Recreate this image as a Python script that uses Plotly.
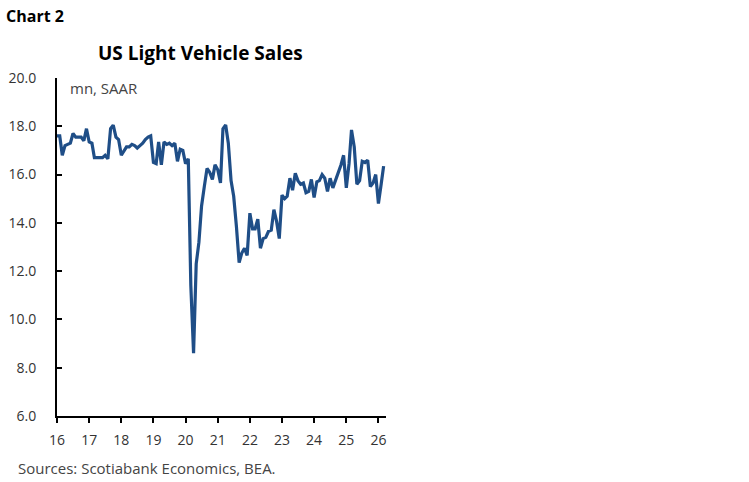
import plotly.graph_objects as go
import pandas as pd

# monthly US light vehicle sales, mn units SAAR, Jan 2016 - Mar 2026
sales_2016 = [17.6, 17.6, 16.8, 17.2, 17.25, 17.3, 17.7, 17.55, 17.55, 17.55, 17.4, 17.9]
sales_2017 = [17.35, 17.3, 16.7, 16.7, 16.7, 16.7, 16.8, 16.65, 17.9, 18.05, 17.55, 17.45]
sales_2018 = [16.8, 17.0, 17.15, 17.15, 17.25, 17.2, 17.1, 17.2, 17.3, 17.45, 17.55, 17.6]
sales_2019 = [16.5, 16.45, 17.35, 16.4, 17.35, 17.25, 17.3, 17.2, 17.3, 16.55, 17.05, 17.0]
sales_2020 = [16.45, 16.65, 11.4, 8.6, 12.3, 13.2, 14.7, 15.5, 16.25, 16.1, 15.8, 16.4]
sales_2021 = [16.2, 15.65, 17.9, 18.05, 17.3, 15.75, 15.1, 13.85, 12.35, 12.75, 12.95, 12.65]
sales_2022 = [14.4, 13.75, 13.75, 14.15, 12.95, 13.35, 13.4, 13.65, 13.7, 14.55, 14.05, 13.35]
sales_2023 = [15.15, 15.0, 15.1, 15.85, 15.35, 16.05, 15.75, 15.6, 15.65, 15.25, 15.3, 15.8]
sales_2024 = [15.05, 15.7, 15.75, 16.0, 15.85, 15.3, 15.85, 15.45, 15.75, 16.05, 16.4, 16.8]
sales_2025 = [15.45, 16.45, 17.85, 17.15, 15.6, 15.75, 16.55, 16.5, 16.6, 15.5, 15.65, 16.0]
sales_2026 = [14.8, 15.6, 16.35]

sales = (sales_2016 + sales_2017 + sales_2018 + sales_2019 + sales_2020 + sales_2021
         + sales_2022 + sales_2023 + sales_2024 + sales_2025 + sales_2026)
months = pd.date_range("2016-01-01", periods=len(sales), freq="MS")

year_ticks = pd.date_range("2016-01-01", "2026-01-01", freq="YS")
year_labels = ["16", "17", "18", "19", "20", "21", "22", "23", "24", "25", "26"]
y_ticks = [6, 8, 10, 12, 14, 16, 18, 20]

font = "Open Sans, Lato, sans-serif"

fig = go.Figure()
fig.add_trace(go.Scatter(x=months, y=sales, mode="lines",
                         line=dict(color="#1f4e87", width=3.2)))

fig.update_layout(
    width=749, height=482,
    margin=dict(l=57, r=363, t=78, b=66),
    plot_bgcolor="white", paper_bgcolor="white",
    showlegend=False,
    font=dict(family=font, size=13, color="#333333"),
    xaxis=dict(range=["2016-01-01", "2026-03-28"], showgrid=False, zeroline=False,
               showline=True, linecolor="black", linewidth=2, automargin=False,
               ticks="outside", ticklen=5, tickwidth=1.5, tickcolor="black",
               tickvals=year_ticks, ticktext=year_labels,
               tickfont=dict(size=14, color="#333333"), ticklabelstandoff=5),
    yaxis=dict(range=[6, 20], showgrid=False, zeroline=False,
               showline=True, linecolor="black", linewidth=2, automargin=False,
               ticks="inside", ticklen=5, tickwidth=1.5, tickcolor="black",
               tickvals=y_ticks, tickformat=".1f",
               tickfont=dict(size=14, color="#333333"), ticklabelstandoff=16),
)

fig.add_annotation(text="<b>Chart 2</b>", xref="paper", yref="paper",
                   x=-53/329, y=1 + 62/338, xanchor="left", yanchor="middle",
                   showarrow=False, font=dict(size=16, color="black", family=font))
fig.add_annotation(text="<b>US Light Vehicle Sales</b>", xref="paper", yref="paper",
                   x=(200 - 57)/329, y=1 + 25/338, xanchor="center", yanchor="middle",
                   showarrow=False, font=dict(size=19, color="black", family=font))
fig.add_annotation(text="mn, SAAR", xref="paper", yref="paper",
                   x=11/329, y=1 - 10/338, xanchor="left", yanchor="middle",
                   showarrow=False, font=dict(size=15, color="#444444", family=font))
fig.add_annotation(text="Sources: Scotiabank Economics, BEA.", xref="paper", yref="paper",
                   x=-41/329, y=-52/338, xanchor="left", yanchor="middle",
                   showarrow=False, font=dict(size=15, color="#444444", family=font))

# drop the default page margin so the chart sits at the window corner
fig.write_html("out.html", config={"displayModeBar": False},
               post_script="document.body.style.margin='0';")
